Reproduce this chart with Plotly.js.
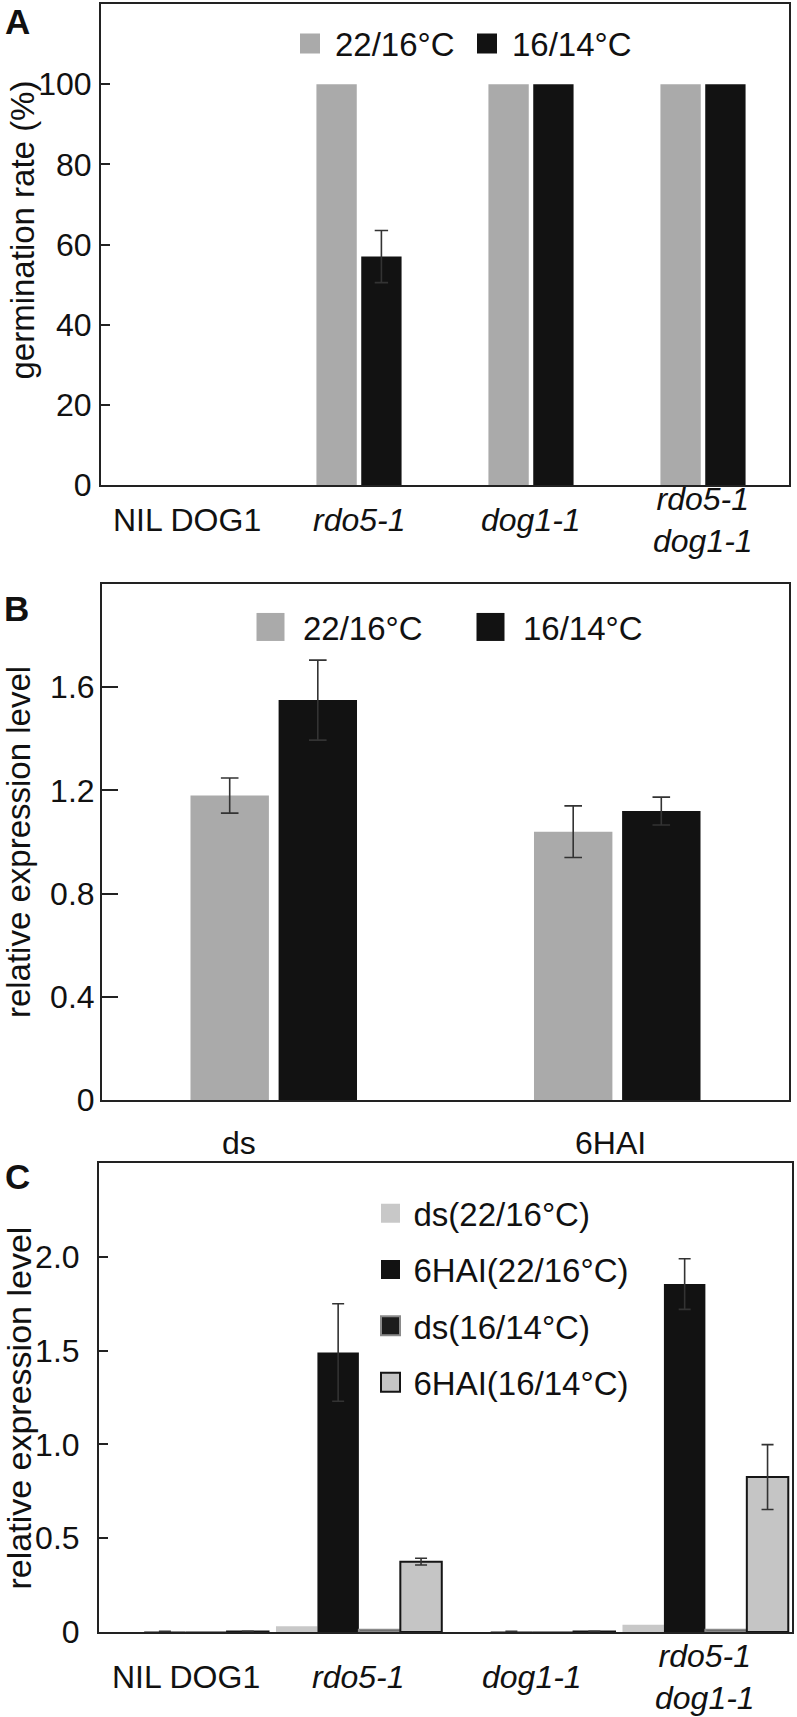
<!DOCTYPE html>
<html><head><meta charset="utf-8">
<script src="https://cdn.plot.ly/plotly-3.0.1.min.js"></script>
<style>
body{margin:0;background:#fff;}
.panel{position:absolute;left:0;width:797px;}
</style>
</head><body>
<div id="pa" class="panel" style="top:0;height:570px"></div>
<div id="pb" class="panel" style="top:570px;height:600px"></div>
<div id="pc" class="panel" style="top:1155px;height:562px"></div>
<script>
// ---------- data ----------
const genotypes = ['NIL DOG1', 'rdo5-1', 'dog1-1', 'rdo5-1 dog1-1'];
const genotypeLabels = ['NIL DOG1', '<i>rdo5-1</i>', '<i>dog1-1</i>', '<i>rdo5-1</i><br><i>dog1-1</i>'];
const tempLabels = ['22/16°C', '16/14°C'];

// Panel A: germination rate (%)
const germ22 = [0, 100, 100, 100];
const germ16 = [0, 57, 100, 100];
const germ16Err = [NaN, 6.5, NaN, NaN];
const yTickValsA = [0, 20, 40, 60, 80, 100];
const yTickTextA = ['0', '20', '40', '60', '80', '100'];
const yTitleA = 'germination rate (%)';

// Panel B: relative expression level
const stages = ['ds', '6HAI'];
const exprB22 = [1.18, 1.04];
const exprB22Err = [0.068, 0.10];
const exprB16 = [1.55, 1.12];
const exprB16Err = [0.155, 0.054];
const yTickValsB = [0, 0.4, 0.8, 1.2, 1.6];
const yTickTextB = ['0', '0.4', '0.8', '1.2', '1.6'];
const yTitleB = 'relative expression level';

// Panel C: relative expression level
const seriesC = ['ds(22/16°C)', '6HAI(22/16°C)', 'ds(16/14°C)', '6HAI(16/14°C)'];
const cDs22 = [0, 0.030, 0, 0.039];
const c6h22 = [0.002, 1.49, 0.002, 1.855];
const c6h22Err = [0.002, 0.26, 0.002, 0.135];
const cDs16 = [0, 0.012, 0, 0.012];
const c6h16 = [0.002, 0.375, 0.002, 0.826];
const c6h16Err = [0.002, 0.018, 0.002, 0.173];
const yTickValsC = [0, 0.5, 1.0, 1.5, 2.0];
const yTickTextC = ['0', '0.5', '1.0', '1.5', '2.0'];
const yTitleC = 'relative expression level';

// ---------- style ----------
const FONT = "'Liberation Sans', Arial, Helvetica, sans-serif";
const INK = '#111111';
const LINE = '#222222';
const GRAY = '#aaaaaa';
const BLACK = '#121212';
const LIGHT = '#c5c5c5';
const ERR = '#333333';
const W = 797;
const CLEAR = 'rgba(0,0,0,0)';

function frameAxis(extra) {
  return Object.assign({
    showline: true, mirror: true, linecolor: LINE, linewidth: 2,
    showgrid: false, zeroline: false, fixedrange: true
  }, extra);
}
function catAxis(cats) {
  return frameAxis({type: 'category', categoryorder: 'array', categoryarray: cats,
    range: [-0.5, cats.length - 0.5], ticks: '', showticklabels: false});
}
function valAxis(range, vals, text, ticklen, standoff, title, titleStandoff) {
  const ax = frameAxis({range: range, tickmode: 'array', tickvals: vals, ticktext: text,
    ticks: 'inside', ticklen: ticklen, tickwidth: 2, tickcolor: LINE,
    ticklabelstandoff: standoff,
    tickfont: {family: FONT, size: 32, color: INK}});
  if (title) ax.title = {text: title, font: {family: FONT, size: 33, color: INK}, standoff: titleStandoff};
  return ax;
}
function letter(txt, x, y) {
  return {xref: 'paper', yref: 'paper', x: x, y: y, xanchor: 'left', yanchor: 'middle',
    text: '<b>' + txt + '</b>', showarrow: false, font: {family: FONT, size: 35, color: INK}};
}
function sideTitle(txt, x, y, size) {
  return {xref: 'paper', yref: 'paper', x: x, y: y, xanchor: 'center', yanchor: 'middle',
    textangle: -90, text: txt, showarrow: false, font: {family: FONT, size: size, color: INK}};
}
function catLabels(cats, labels, y, shifts) {
  return cats.map((c, i) => ({xref: 'x', yref: 'paper', x: c, y: y, xanchor: 'center', yanchor: 'middle',
    xshift: shifts ? shifts[i] : 0, text: labels[i], showarrow: false,
    font: {family: FONT, size: 32, color: INK}}));
}
function errY(arr, w) {
  return {type: 'data', array: arr, visible: true, color: ERR, thickness: 1.6, width: w};
}
function bigSymbols(gd, half) {
  gd.querySelectorAll('g.legendpoints path').forEach(p => {
    p.setAttribute('d', 'M' + half + ',' + half + 'H' + (-half) + 'V' + (-half) + 'H' + half + 'Z');
  });
  return gd;
}
const config = {staticPlot: true, displayModeBar: false};

// ---------- Panel A ----------
(function() {
  const m = {l: 101, r: 8, t: 4, b: 85};
  const H = 570, pw = W - m.l - m.r, ph = H - m.t - m.b;
  const px = x => (x - m.l) / pw, py = y => 1 - (y - m.t) / ph;
  const traces = [
    {type: 'bar', name: tempLabels[0], x: genotypes, y: germ22, marker: {color: GRAY}},
    {type: 'bar', name: tempLabels[1], x: genotypes, y: germ16, marker: {color: BLACK},
      error_y: errY(germ16Err, 6.7)}
  ];
  const layout = {
    width: W, height: H, margin: m, paper_bgcolor: CLEAR, plot_bgcolor: CLEAR,
    font: {family: FONT, color: INK},
    barmode: 'group', bargap: 0.479, bargroupgap: 0.1,
    xaxis: catAxis(genotypes),
    yaxis: valAxis([0, 120], yTickValsA, yTickTextA, 9, 1),
    showlegend: true,
    legend: {orientation: 'h', x: px(285), xanchor: 'left', y: py(43.5), yanchor: 'middle',
      font: {family: FONT, size: 33, color: INK}, itemwidth: 40, entrywidth: 122,
      bgcolor: CLEAR, borderwidth: 0},
    annotations: [letter('A', px(3), py(21.5)), sideTitle(yTitleA, px(21.5), py(230), 33)]
      .concat(catLabels(genotypes, genotypeLabels, py(520)))
  };
  Plotly.newPlot('pa', traces, layout, config).then(gd => bigSymbols(gd, 10));
})();

// ---------- Panel B ----------
(function() {
  const m = {l: 102, r: 8, t: 14, b: 70};
  const H = 600, pw = W - m.l - m.r, ph = H - m.t - m.b;
  const px = x => (x - m.l) / pw, py = y => 1 - (y - m.t) / ph;
  const traces = [
    {type: 'bar', name: tempLabels[0], x: stages, y: exprB22, marker: {color: GRAY},
      error_y: errY(exprB22Err, 8.8)},
    {type: 'bar', name: tempLabels[1], x: stages, y: exprB16, marker: {color: BLACK},
      error_y: errY(exprB16Err, 8.8)}
  ];
  const layout = {
    width: W, height: H, margin: m, paper_bgcolor: CLEAR, plot_bgcolor: CLEAR,
    font: {family: FONT, color: INK},
    barmode: 'group', bargap: 0.487, bargroupgap: 0.11,
    xaxis: catAxis(stages),
    yaxis: valAxis([0, 2.0], yTickValsB, yTickTextB, 16, -1, yTitleB, 12),
    showlegend: true,
    legend: {orientation: 'h', x: px(238), xanchor: 'left', y: py(627 - 570), yanchor: 'middle',
      font: {family: FONT, size: 33, color: INK}, itemwidth: 55, entrywidth: 150,
      bgcolor: CLEAR, borderwidth: 0},
    annotations: [letter('B', px(1.7), py(609 - 570))].concat(
      catLabels(stages, stages, py(1143 - 570), [-35, -6.5]))
  };
  Plotly.newPlot('pb', traces, layout, config).then(gd => bigSymbols(gd, 14));
})();

// ---------- Panel C ----------
(function() {
  const m = {l: 99, r: 5, t: 8, b: 85};
  const H = 562, pw = W - m.l - m.r, ph = H - m.t - m.b;
  const px = x => (x - m.l) / pw, py = y => 1 - (y - m.t) / ph;
  const traces = [
    {type: 'bar', name: seriesC[0], legendgroup: 'c1', x: genotypes, y: cDs22,
      marker: {color: '#c8c8c8'}},
    {type: 'bar', name: seriesC[1], legendgroup: 'c2', x: genotypes, y: c6h22,
      marker: {color: BLACK}, error_y: errY(c6h22Err, 6)},
    {type: 'bar', name: seriesC[2], legendgroup: 'c3', x: genotypes, y: cDs16,
      marker: {color: '#1c1c1c', line: {color: '#8a8a8a', width: 2}}},
    {type: 'bar', name: seriesC[3], legendgroup: 'c4', x: genotypes, y: c6h16,
      marker: {color: LIGHT, line: {color: '#151515', width: 2}}, error_y: errY(c6h16Err, 6)}
  ];
  const layout = {
    width: W, height: H, margin: m, paper_bgcolor: CLEAR, plot_bgcolor: CLEAR,
    font: {family: FONT, color: INK},
    barmode: 'group', bargap: 0.043, bargroupgap: 0,
    xaxis: catAxis(genotypes),
    yaxis: valAxis([0, 2.5], yTickValsC, yTickTextC, 9, 11),
    showlegend: true,
    legend: {orientation: 'v', x: px(367.5), xanchor: 'left', y: py(1185.3 - 1155), yanchor: 'top',
      traceorder: 'grouped', tracegroupgap: 10.4,
      font: {family: FONT, size: 33, color: INK}, itemwidth: 36,
      bgcolor: CLEAR, borderwidth: 0},
    annotations: [letter('C', px(3.3), py(1176.5 - 1155)),
      sideTitle(yTitleC, px(18), py(1408.5 - 1155), 34)].concat(
      catLabels(genotypes, genotypeLabels, py(1677 - 1155)))
  };
  Plotly.newPlot('pc', traces, layout, config).then(gd => bigSymbols(gd, 9.5));
})();
</script>
</body></html>
